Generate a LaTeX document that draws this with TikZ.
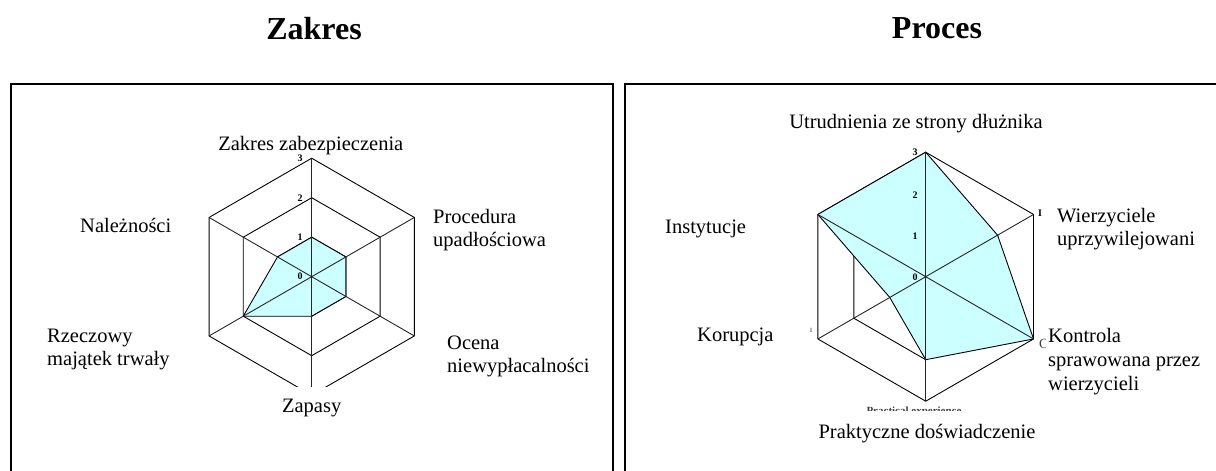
\documentclass[tikz,border=0pt]{standalone}
\usepackage{fontspec}
\setmainfont{Liberation Serif}
\usetikzlibrary{calc}
\definecolor{fillc}{HTML}{CCFFFF}
\begin{document}
\begin{tikzpicture}[x=1pt,y=-1pt,
  frame/.style={line width=1.5pt,black},
  grid/.style={line width=0.9pt,black},
  spoke/.style={line width=0.9pt,black!85},
  data/.style={fill=fillc,draw=black,line width=0.9pt},
  lbl/.style={font=\fontsize{20.5}{24}\selectfont,inner sep=0pt},
  wlbl/.style={lbl,fill=white,inner xsep=2pt,text height=15pt,text depth=5pt},
  tick/.style={font=\bfseries\fontsize{10}{12}\selectfont,inner sep=0pt},
  frag/.style={font=\bfseries\fontsize{11}{11}\selectfont,inner sep=0pt,black!75},
  title/.style={font=\bfseries\fontsize{32}{36}\selectfont,inner sep=0pt}]
\useasboundingbox (0,0) rectangle (1216,471);
% titles
\node[title,anchor=base] (t1) at (314,39) {Zakres};
\node[title,anchor=base] (t2) at (937,38.5) {Proces};
% frames
\draw[frame] (11,473) -- (11,84) -- (613,84) -- (613,473);
\draw[frame] (625,473) -- (625,84) -- (1220,84) -- (1220,473);

% ---------------- left chart ----------------
\begin{scope}[shift={(311.7,276.7)}]
  \def\u{39.5}
  \foreach \r in {1,2,3}
    \draw[grid] (-90:{\r*\u}) -- (-30:{\r*\u}) -- (30:{\r*\u}) -- (90:{\r*\u}) -- (150:{\r*\u}) -- (210:{\r*\u}) -- cycle;
  \coordinate (L0) at (0,0);
  \foreach \k in {0,...,5}
    \coordinate (LA\k) at ({-90+60*\k}:{3*\u});
  \filldraw[data] (-90:\u) -- (-30:\u) -- (30:\u) -- (90:\u) -- (150:{2*\u}) -- (210:\u) -- cycle;
  \foreach \k in {0,...,5}
    \draw[spoke] (L0) -- (LA\k);
\end{scope}
\node[tick] (lt0) at (300,276.7) {0};
\node[tick] (lt1) at (300,237.2) {1};
\node[tick] (lt2) at (300,197.7) {2};
\node[tick] (lt3) at (300,158.2) {3};

\node[lbl,anchor=base] (la) at (310.8,150) {Zakres zabezpieczenia};
\node[lbl,anchor=base west] (lb1) at (433,223) {Procedura};
\node[lbl,anchor=base west] (lb2) at (433,246) {upadłościowa};
\node[lbl,anchor=base west] (lc1) at (447,349) {Ocena};
\node[lbl,anchor=base west] (lc2) at (447,372) {niewypłacalności};
\node[lbl,anchor=north,fill=white,inner xsep=3pt,text height=25pt,text depth=6pt] (ld) at (311.7,387) {Zapasy};
\node[lbl,anchor=base west] (le1) at (47,342) {Rzeczowy};
\node[lbl,anchor=base west] (le2) at (47,365) {majątek trwały};
\node[lbl,anchor=base west] (lf) at (80,232) {Należności};

% ---------------- right chart ----------------
\begin{scope}[shift={(925.7,276.7)}]
  \def\u{41.5}
  \foreach \r in {1,2,3}
    \draw[grid] (-90:{\r*\u}) -- (-30:{\r*\u}) -- (30:{\r*\u}) -- (90:{\r*\u}) -- (150:{\r*\u}) -- (210:{\r*\u}) -- cycle;
  \coordinate (R0) at (0,0);
  \foreach \k in {0,...,5}
    \coordinate (RA\k) at ({-90+60*\k}:{3*\u});
  \filldraw[data] (-90:{3*\u}) -- (-30:{2*\u}) -- (30:{3*\u}) -- (90:{2*\u}) -- (150:\u) -- (210:{3*\u}) -- cycle;
  \foreach \k in {0,...,5}
    \draw[spoke] (R0) -- (RA\k);
\end{scope}
\node[tick] (rt0) at (915,277) {0};
\node[tick] (rt1) at (915,236) {1};
\node[tick] (rt2) at (915,195) {2};
\node[tick] (rt3) at (915,152.3) {3};

% clipped fragments of hidden labels
\node[frag,anchor=north] (fr1) at (914,407) {Practical experience};
\node[font=\bfseries\fontsize{10}{10}\selectfont,inner sep=0pt] (fr2) at (1040,213) {I};
\node[font=\fontsize{14}{14}\selectfont,inner sep=0pt,black!75,anchor=base west] (fr3) at (1039,348) {C};
\node[font=\fontsize{9}{9}\selectfont,inner sep=0pt,black!70] (fr4) at (811,330) {ı};

\node[lbl,anchor=base] (ra) at (916,128) {Utrudnienia ze strony dłużnika};
\node[wlbl,anchor=base west] (rb1) at (1055,222.5) {Wierzyciele};
\node[lbl,anchor=base west] (rb2) at (1057,245) {uprzywilejowani};
\node[wlbl,anchor=base west] (rc1) at (1046,342.5) {Kontrola};
\node[lbl,anchor=base west] (rc2) at (1048,366) {sprawowana przez};
\node[lbl,anchor=base west] (rc3) at (1048,390) {wierzycieli};
\node[lbl,anchor=base,fill=white,inner xsep=2pt,text height=27.5pt,text depth=5pt] (rd) at (927,438) {Praktyczne doświadczenie};
\node[lbl,anchor=base west] (re) at (697,341) {Korupcja};
\node[lbl,anchor=base west] (rf) at (665,233) {Instytucje};
\end{tikzpicture}
\end{document}
